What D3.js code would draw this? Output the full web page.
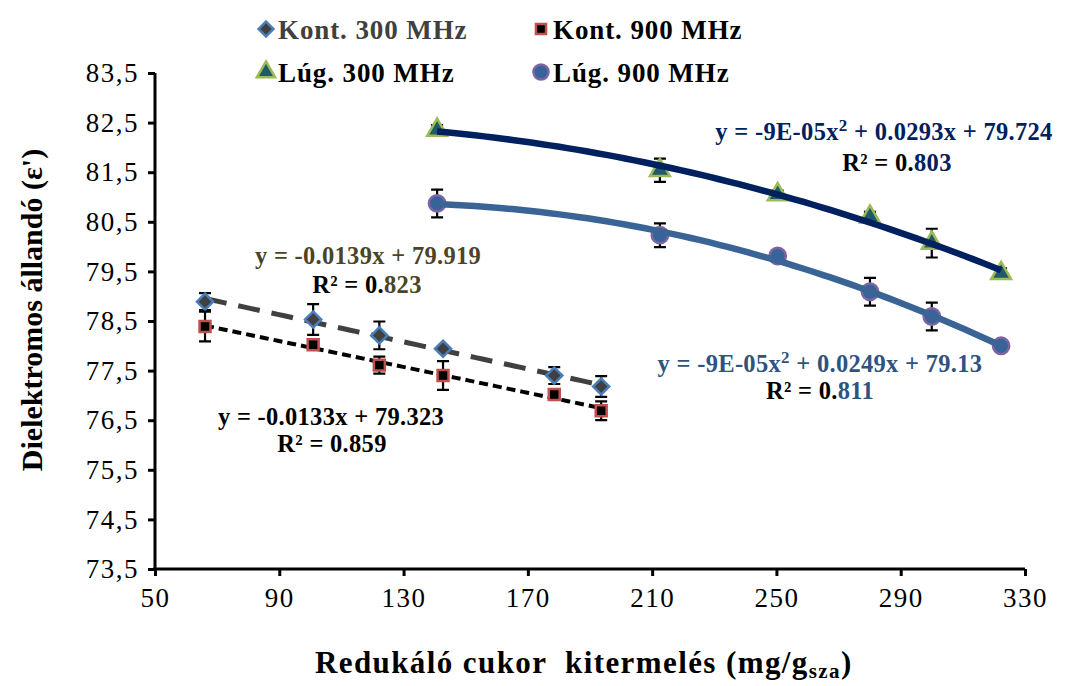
<!DOCTYPE html>
<html>
<head>
<meta charset="utf-8">
<script src="https://cdn.jsdelivr.net/npm/d3@7/dist/d3.min.js"></script>
<style>
  body { margin: 0; background: #fff; }
  svg text { font-family: "Liberation Serif", "Times New Roman", serif; }
</style>
</head>
<body>
<script>
// data
const kontX = [66.1, 100.9, 122.2, 142.7, 178.5, 193.6];
const kont300 = [78.89, 78.53, 78.21, 77.94, 77.40, 77.18];
const kont300Err = [0.17, 0.31, 0.28, 0.05, 0.17, 0.21];
const kont900 = [78.39, 78.02, 77.61, 77.40, 77.02, 76.69];
const kont900Err = [0.30, 0.06, 0.17, 0.29, 0.06, 0.19];

const lugX = [140.8, 212.5, 250.4, 280.1, 300.0, 322.3];
const lug300 = [82.35, 81.54, 81.05, 80.60, 80.07, 79.46];
const lug300Err = [0.10, 0.235, 0.08, 0.10, 0.29, 0.10];
const lug900 = [80.87, 80.23, 79.81, 79.09, 78.59, 78.00];
const lug900Err = [0.28, 0.24, 0.08, 0.28, 0.28, 0.08];

const xTicks = [50, 90, 130, 170, 210, 250, 290, 330];
const yTicks = [73.5, 74.5, 75.5, 76.5, 77.5, 78.5, 79.5, 80.5, 81.5, 82.5, 83.5];

const W = 1065, H = 686;
const x = d3.scaleLinear().domain([50, 330]).range([155, 1025]);
const y = d3.scaleLinear().domain([73.5, 83.5]).range([569, 73]);

const svg = d3.select('body').append('svg')
    .attr('width', W)
    .attr('height', H);

// least squares fits for the trendlines
function linFit(xs, ys) {
    const mx = d3.mean(xs), my = d3.mean(ys);
    let sxy = 0, sxx = 0;
    xs.forEach((v, i) => { sxy += (v - mx) * (ys[i] - my); sxx += (v - mx) * (v - mx); });
    const b = sxy / sxx;
    return v => my + b * (v - mx);
}

function quadFit(xs, ys) {
    // normal equations, solved with cramer
    const n = xs.length;
    let s1 = 0, s2 = 0, s3 = 0, s4 = 0, t0 = 0, t1 = 0, t2 = 0;
    xs.forEach((v, i) => {
        s1 += v; s2 += v * v; s3 += v * v * v; s4 += v * v * v * v;
        t0 += ys[i]; t1 += v * ys[i]; t2 += v * v * ys[i];
    });
    const det = m => m[0][0] * (m[1][1] * m[2][2] - m[1][2] * m[2][1])
        - m[0][1] * (m[1][0] * m[2][2] - m[1][2] * m[2][0])
        + m[0][2] * (m[1][0] * m[2][1] - m[1][1] * m[2][0]);
    const A = [[n, s1, s2], [s1, s2, s3], [s2, s3, s4]];
    const B = [t0, t1, t2];
    const D = det(A);
    const coef = [0, 1, 2].map(k => det(A.map((r, i) => r.map((c, j) => j === k ? B[i] : c))) / D);
    return v => coef[0] + coef[1] * v + coef[2] * v * v;
}

// axes
const xAxis = svg.append('g')
    .attr('transform', `translate(0, ${y(73.5)})`)
    .call(d3.axisBottom(x).tickValues(xTicks).tickSize(7).tickSizeOuter(0).tickPadding(8));

const yAxis = svg.append('g')
    .attr('transform', `translate(${x(50)}, 0)`)
    .call(d3.axisLeft(y).tickValues(yTicks).tickSize(7).tickSizeOuter(0).tickPadding(9)
        .tickFormat(d => d3.format('.1f')(d).replace('.', ',')));

[xAxis, yAxis].forEach(a => {
    a.selectAll('path, line').attr('stroke', '#000').attr('stroke-width', 3);
    a.selectAll('text').attr('font-size', 27).attr('fill', '#000')
        .attr('letter-spacing', 1.5)
        .style('font-family', '"Liberation Serif", serif');
});
xAxis.select('.domain').attr('d', `M${x(50) - 2},0H${x(330)}`);
yAxis.select('.domain').attr('d', `M0,${y(83.5)}V${y(73.5) + 1.5}`);
xAxis.selectAll('text').attr('dy', '0.85em');

// axis titles
svg.append('text')
    .attr('transform', `translate(42, 310) rotate(-90)`)
    .attr('text-anchor', 'middle')
    .attr('font-size', 30)
    .attr('font-weight', 'bold')
    .text("Dielektromos állandó (ε')");

const xTitle = svg.append('text')
    .attr('x', 315)
    .attr('y', 673)
    .attr('font-size', 31)
    .attr('font-weight', 'bold')
    .attr('letter-spacing', 1.4)
    .style('white-space', 'pre');
xTitle.append('tspan').text('Redukáló cukor  kitermelés (mg/g');
xTitle.append('tspan').attr('font-size', 21).attr('dy', 5).text('sza');
xTitle.append('tspan').attr('dy', -5).text(')');

// diamond = square turned 45deg
const series = [
    { xs: kontX, ys: kont300, err: kont300Err, sym: d3.symbolSquare, rot: 45, size: 130, fill: '#404040', stroke: '#4a7ebb' },
    { xs: kontX, ys: kont900, err: kont900Err, sym: d3.symbolSquare, rot: 0, size: 120, fill: '#000', stroke: '#c0504d' },
    { xs: lugX, ys: lug300, err: lug300Err, sym: d3.symbolTriangle, rot: 0, size: 170, fill: '#215968', stroke: '#9bbb59' },
    { xs: lugX, ys: lug900, err: lug900Err, sym: d3.symbolCircle, rot: 0, size: 210, fill: '#35639a', stroke: '#8064a2' }
];

function lineFrom(fn, xs, g, col, width, dash) {
    const pts = d3.range(0, 61).map(i => {
        const v = d3.min(xs) + (d3.max(xs) - d3.min(xs)) * i / 60;
        return [x(v), y(fn(v))];
    });
    g.append('path')
        .attr('d', d3.line()(pts))
        .attr('fill', 'none')
        .attr('stroke', col)
        .attr('stroke-width', width)
        .attr('stroke-dasharray', dash);
}

const gLow = svg.append('g');
const gMarks = svg.append('g');
const gHigh = svg.append('g');

lineFrom(linFit(kontX, kont300), kontX, gLow, '#404040', 5, '22,12');
lineFrom(linFit(kontX, kont900), kontX, gLow, '#000', 4, '9,5');

series.forEach(s => {
    const g = gMarks.append('g');
    s.xs.forEach((v, i) => {
        const cx = x(v), top = y(s.ys[i] + s.err[i]), bot = y(s.ys[i] - s.err[i]);
        g.append('path')
            .attr('d', `M${cx},${top}V${bot}M${cx - 6},${top}H${cx + 6}M${cx - 6},${bot}H${cx + 6}`)
            .attr('stroke', '#000')
            .attr('stroke-width', 2.2);
    });
    g.selectAll('.pt')
        .data(s.xs)
        .enter()
        .append('path')
        .attr('transform', (d, i) => `translate(${x(d)}, ${y(s.ys[i])}) rotate(${s.rot})`)
        .attr('d', d3.symbol().type(s.sym).size(s.size))
        .attr('fill', s.fill)
        .attr('stroke', s.stroke)
        .attr('stroke-width', 2.5);
});

lineFrom(quadFit(lugX, lug300), lugX, gHigh, '#002060', 6.5, null);
lineFrom(quadFit(lugX, lug900), lugX, gHigh, '#3a6496', 6.5, null);

// trendline labels
function label(cx, by, col, parts) {
    const t = svg.append('text')
        .attr('x', cx)
        .attr('y', by)
        .attr('text-anchor', 'middle')
        .attr('font-size', 24.5)
        .attr('font-weight', 'bold')
        .attr('letter-spacing', 0.3)
        .attr('fill', col);
    parts.forEach(p => {
        const ts = t.append('tspan').text(p.t);
        if (p.fill) ts.attr('fill', p.fill);
        if (p.sup) ts.attr('font-size', 17).attr('dy', -9);
        if (p.down) ts.attr('dy', 9);
    });
}

label(368, 264, '#4a4526', [{ t: 'y = -0.0139x + 79.919' }]);
label(367, 293, '#4a4526', [{ t: 'R² = 0.', fill: '#000' }, { t: '823' }]);
label(331, 425, '#000', [{ t: 'y = -0.0133x + 79.323' }]);
label(332, 452, '#000', [{ t: 'R² = 0.859' }]);
label(884, 140, '#002060', [{ t: 'y = -9E-05x' }, { t: '2', sup: true }, { t: ' + 0.0293x + 79.724', down: true }]);
label(897, 171, '#002060', [{ t: 'R² = 0.', fill: '#000' }, { t: '803' }]);
label(820, 372, '#2f5381', [{ t: 'y = -9E-05x' }, { t: '2', sup: true }, { t: ' + 0.0249x + 79.13', down: true }]);
label(820, 399, '#2f5381', [{ t: 'R² = 0.', fill: '#000' }, { t: '811' }]);

// legend
const legend = [
    { name: 'Kont. 300 MHz', s: series[0], lx: 266, ly: 29, col: '#404040' },
    { name: 'Kont. 900 MHz', s: series[1], lx: 541, ly: 29, col: '#000' },
    { name: 'Lúg. 300 MHz', s: series[2], lx: 266, ly: 72, col: '#000' },
    { name: 'Lúg. 900 MHz', s: series[3], lx: 541, ly: 72, col: '#000' }
];

const lg = svg.selectAll('.leg')
    .data(legend)
    .enter()
    .append('g')
    .attr('class', 'leg')
    .attr('transform', d => `translate(${d.lx}, ${d.ly})`);

lg.append('path')
    .attr('transform', d => `rotate(${d.s.rot})`)
    .attr('d', d => d3.symbol().type(d.s.sym).size(d.s.size * 0.85)())
    .attr('fill', d => d.s.fill)
    .attr('stroke', d => d.s.stroke)
    .attr('stroke-width', 2.5);

lg.append('text')
    .attr('x', 12)
    .attr('y', 10)
    .attr('font-size', 27)
    .attr('font-weight', 'bold')
    .attr('letter-spacing', 0.9)
    .attr('fill', d => d.col)
    .text(d => d.name);
</script>
</body>
</html>
